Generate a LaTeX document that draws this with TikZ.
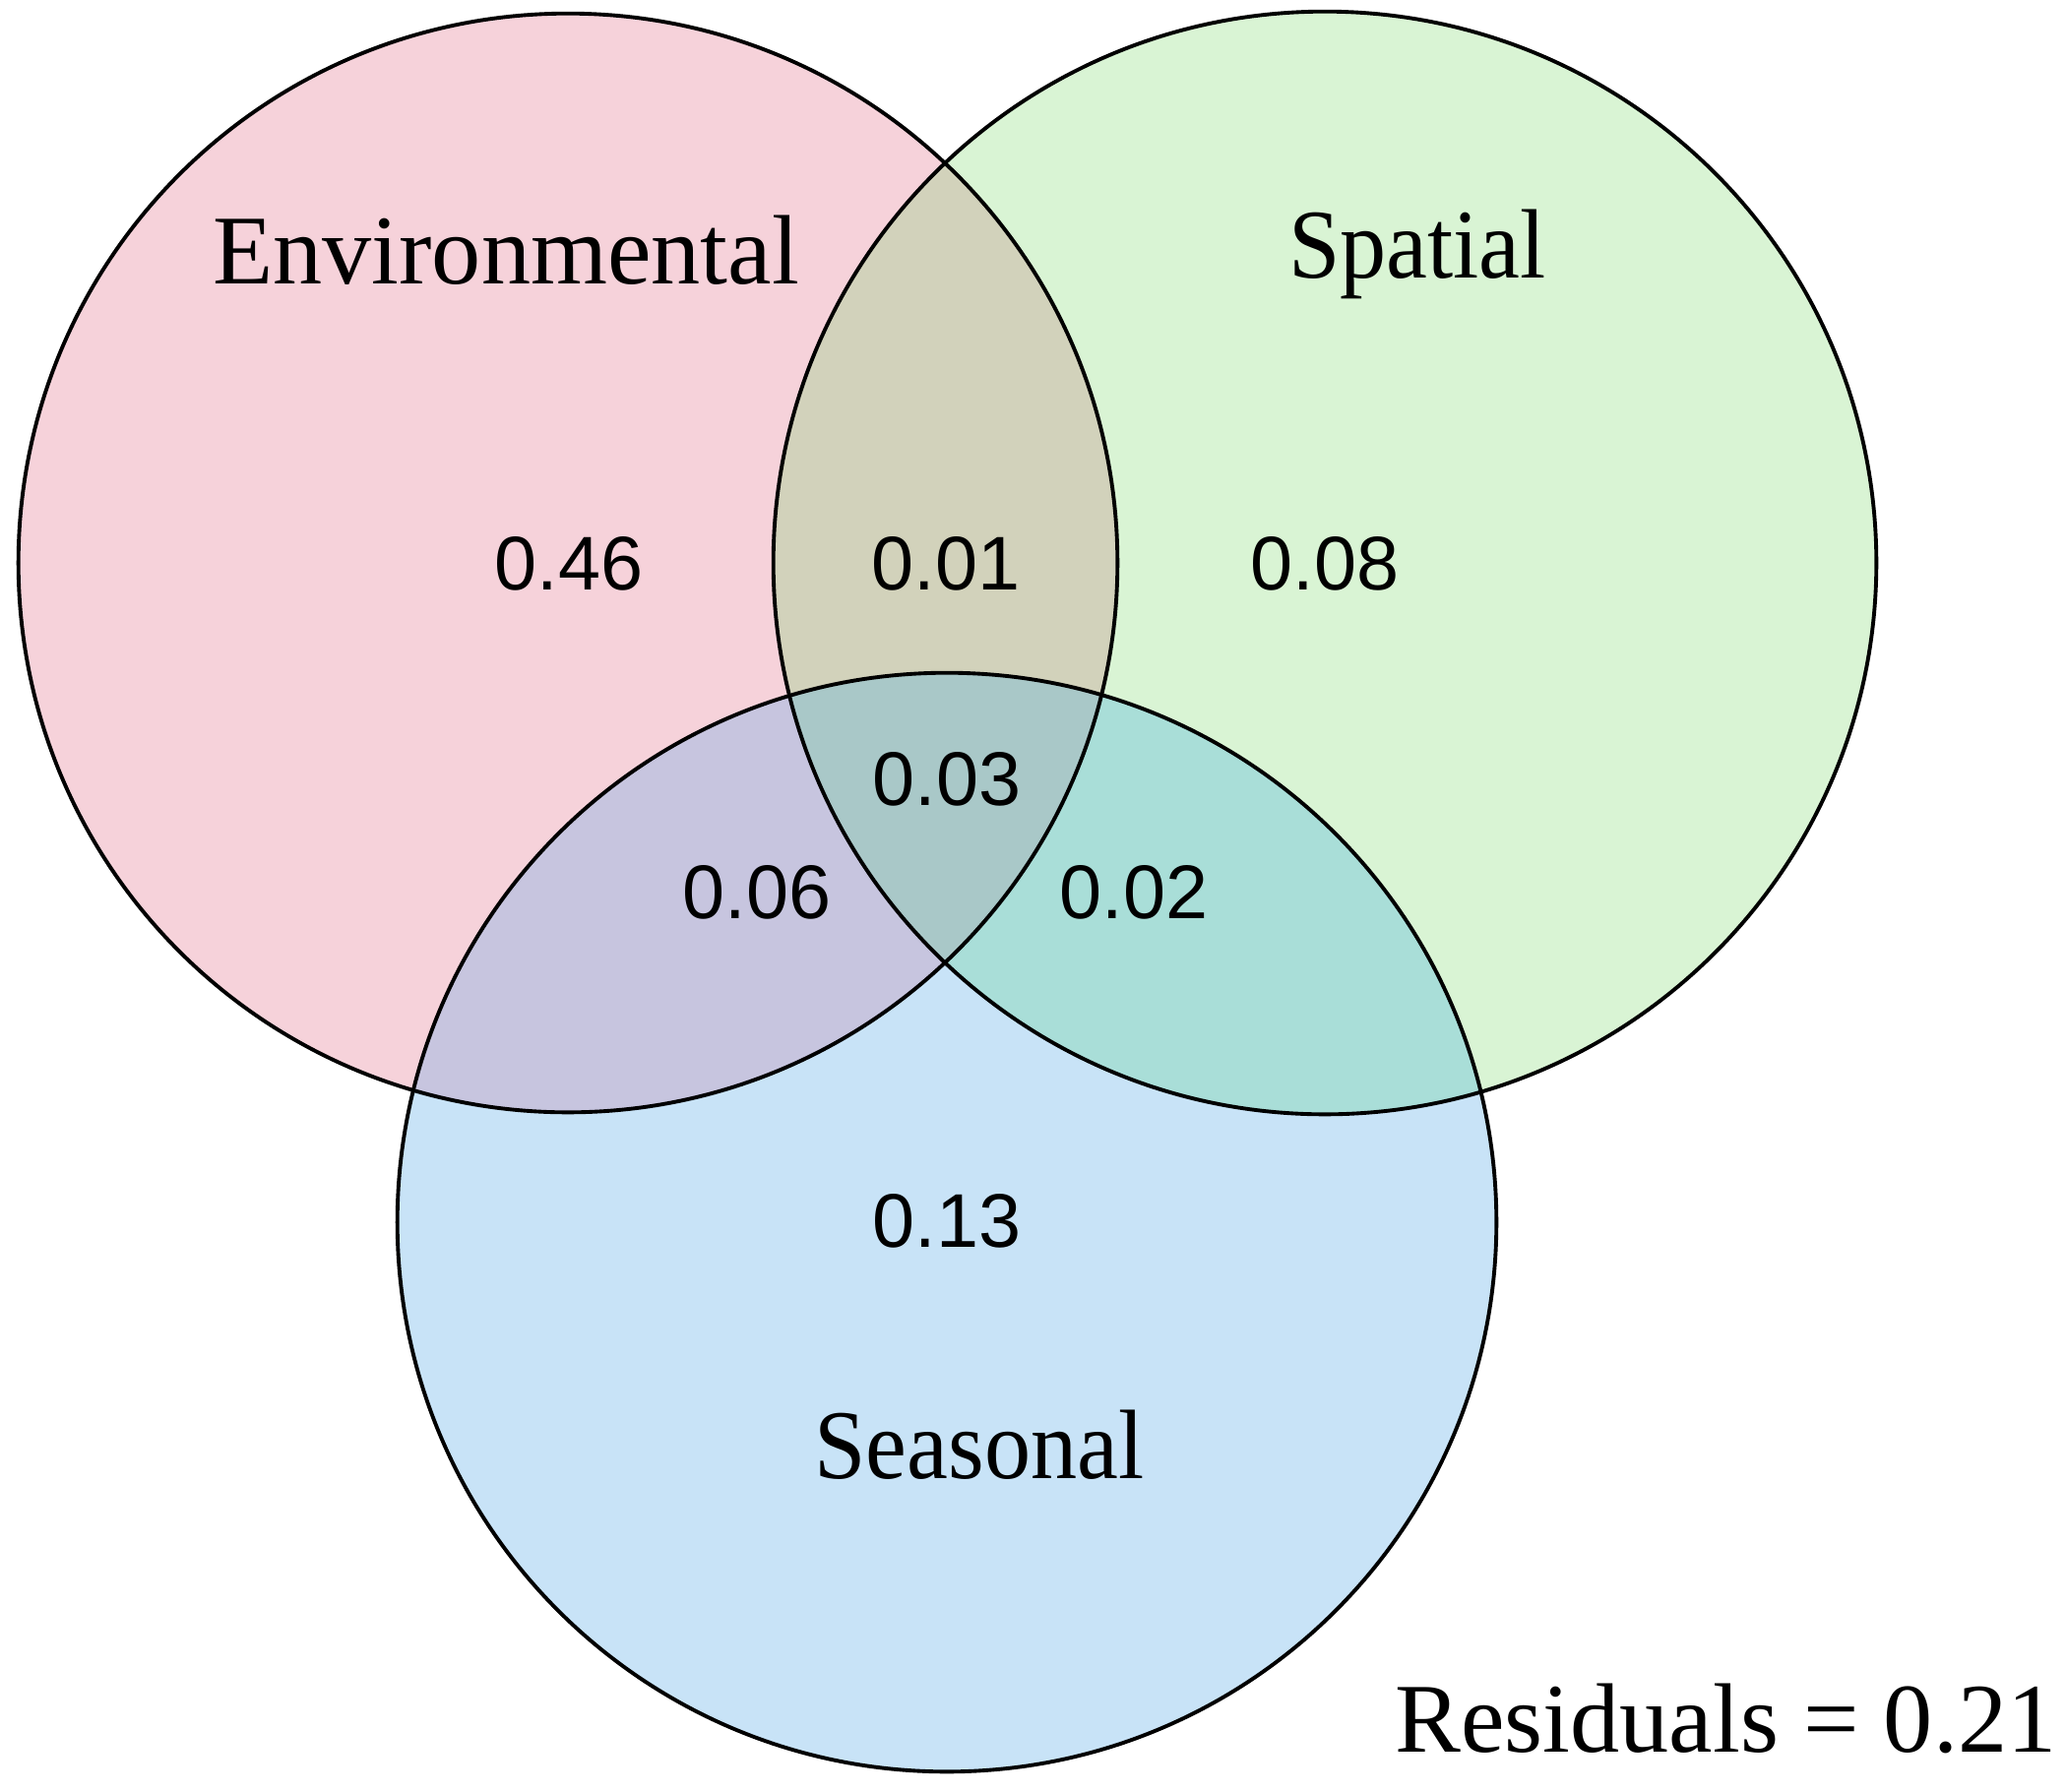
\documentclass[tikz,border=0pt]{standalone}
\usepackage{fontspec}
\setmainfont{Liberation Serif}[FakeStretch=0.94]
\newfontfamily\widefont{Liberation Serif}
\newfontfamily\numfont{Liberation Sans}
\definecolor{cEnv}{HTML}{F6D2DA}
\definecolor{cSpa}{HTML}{D9F4D4}
\definecolor{cSea}{HTML}{C8E3F7}
\definecolor{cES}{HTML}{D2D2BB}
\definecolor{cEB}{HTML}{C7C5DF}
\definecolor{cSB}{HTML}{A9DED8}
\definecolor{cAll}{HTML}{A9C8C8}
\tikzset{
  ring/.style={draw=black,line width=1.1pt},
  setlabel/.style={font=\fontsize{28.5}{32}\selectfont,anchor=base,inner sep=0pt},
  val/.style={font=\numfont\fontsize{22}{26}\selectfont,inner sep=0pt},
}
\begin{document}
\begin{tikzpicture}[x=0.01cm,y=-0.01cm]
\useasboundingbox (0,0) rectangle (2100,1820);
\fill[white] (0,0) rectangle (2100,1820);
\def\envc{(577,572) circle (5.58cm)}
\def\spac{(1346,572) circle (5.60cm)}
\def\seac{(962,1242) circle (5.58cm)}
\fill[cEnv] \envc;
\fill[cSpa] \spac;
\fill[cSea] \seac;
\begin{scope}\clip \envc; \fill[cES] \spac; \end{scope}
\begin{scope}\clip \envc; \fill[cEB] \seac; \end{scope}
\begin{scope}\clip \spac; \fill[cSB] \seac; \end{scope}
\begin{scope}\clip \envc; \clip \spac; \fill[cAll] \seac; \end{scope}
\draw[ring] \envc;
\draw[ring] \spac;
\draw[ring] \seac;
\node[setlabel,font=\widefont\fontsize{28.5}{32}\selectfont] (env) at (514,288) {Environmental};
\node[setlabel] (spa) at (1440,282) {Spatial};
\node[setlabel] (sea) at (995,1502) {Seasonal};
\node[setlabel,font=\widefont\fontsize{28.5}{32}\selectfont,anchor=base east] (res) at (2090,1780) {Residuals = 0.21};
\node[val] (v1) at (578,573) {0.46};
\node[val] (v2) at (961,573) {0.01};
\node[val] (v3) at (1346,573) {0.08};
\node[val] (v4) at (962,792) {0.03};
\node[val] (v5) at (769,907) {0.06};
\node[val] (v6) at (1152,907) {0.02};
\node[val] (v7) at (962,1241) {0.13};
\end{tikzpicture}
\end{document}
